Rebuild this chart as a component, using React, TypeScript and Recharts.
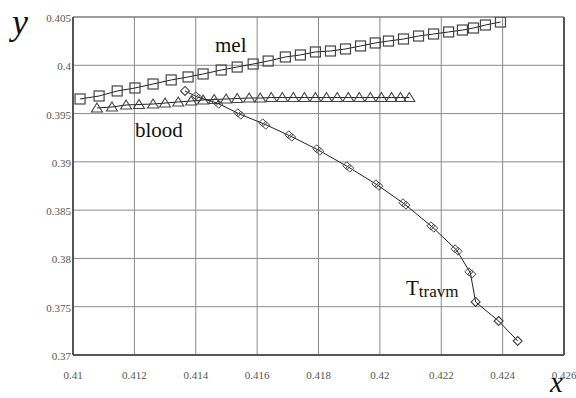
import { ScatterChart, Scatter, XAxis, YAxis, CartesianGrid, ReferenceLine } from "recharts";

const X_TICKS = [0.41, 0.412, 0.414, 0.416, 0.418, 0.42, 0.422, 0.424, 0.426];
const Y_TICKS = [0.37, 0.375, 0.38, 0.385, 0.39, 0.395, 0.4, 0.405];

// mel (squares)
const MEL_X = [
  0.41023, 0.41085, 0.41144, 0.41202, 0.41261, 0.4132, 0.41375, 0.41424, 0.41483, 0.41535,
  0.41587, 0.41636, 0.41692, 0.41741, 0.4179, 0.41839, 0.41888, 0.41937, 0.41985, 0.42028,
  0.42077, 0.42126, 0.42175, 0.42224, 0.42269, 0.42305, 0.42344, 0.42393,
];
const MEL_Y = [
  0.39651, 0.39682, 0.39734, 0.39765, 0.39806, 0.39848, 0.39879, 0.3991, 0.39951, 0.39982,
  0.40013, 0.40044, 0.40086, 0.40107, 0.40138, 0.40148, 0.40169, 0.402, 0.40231, 0.40251,
  0.40272, 0.40303, 0.40324, 0.40345, 0.40365, 0.40386, 0.40417, 0.40448,
];

// blood (triangles)
const BLOOD_X = [
  0.41078, 0.41127, 0.41173, 0.41215, 0.41261, 0.413, 0.41343, 0.41385, 0.41424, 0.4146,
  0.41499, 0.41535, 0.41574, 0.4161, 0.41646, 0.41682, 0.41718, 0.41754, 0.4179, 0.41826,
  0.41861, 0.41897, 0.41933, 0.41969, 0.42005, 0.42038, 0.42067, 0.42096,
];
const BLOOD_Y = [
  0.39558, 0.39568, 0.39589, 0.39594, 0.39599, 0.39609, 0.3962, 0.3963, 0.39641, 0.39646,
  0.39651, 0.39656, 0.39661, 0.39661, 0.39666, 0.39666, 0.39666, 0.39666, 0.39666, 0.39666,
  0.39666, 0.39666, 0.39666, 0.39666, 0.39666, 0.39666, 0.39666, 0.39666,
];

// Ttravm (diamonds)
const TRAVM_X = [
  0.41365, 0.41405, 0.4147, 0.41542, 0.41623, 0.41708, 0.41799, 0.41897, 0.41992, 0.4208,
  0.42171, 0.4225, 0.42295, 0.42312, 0.42387, 0.42449,
];
const TRAVM_Y = [
  0.39734, 0.39672, 0.39609, 0.39496, 0.39392, 0.39268, 0.39123, 0.38947, 0.3876, 0.38564,
  0.38325, 0.38087, 0.37849, 0.37549, 0.37352, 0.37145,
];

const toPoints = (xs: number[], ys: number[]) => xs.map((x, i) => ({ x, y: ys[i] }));
const mel = toPoints(MEL_X, MEL_Y);
const blood = toPoints(BLOOD_X, BLOOD_Y);
const travm = toPoints(TRAVM_X, TRAVM_Y);

const SERIF = "'Liberation Serif', 'DejaVu Serif', serif";
const MARK = "#444";
const fmt = (v: number) => String(Number(v.toFixed(3)));

const Square = (p: any) => (
  <rect x={p.cx - 5} y={p.cy - 5} width={10} height={10} fill="none" stroke={MARK} strokeWidth={1.2} />
);

const Triangle = (p: any) => (
  <polygon
    points={`${p.cx},${p.cy - 5} ${p.cx - 5.5},${p.cy + 4} ${p.cx + 5.5},${p.cy + 4}`}
    fill="none"
    stroke={MARK}
    strokeWidth={1.1}
  />
);

const diamond = (cx: number, cy: number, r: number) =>
  `${cx},${cy - r} ${cx + r},${cy} ${cx},${cy + r} ${cx - r},${cy}`;

const Diamond = (p: any) => {
  const single = p.index === 0 || p.index >= 13;
  if (single) {
    return <polygon points={diamond(p.cx, p.cy, 4.5)} fill="none" stroke={MARK} strokeWidth={1.1} />;
  }
  return (
    <g fill="none" stroke={MARK} strokeWidth={1}>
      <polygon points={diamond(p.cx - 1.5, p.cy - 1.2, 4)} />
      <polygon points={diamond(p.cx + 1.5, p.cy + 1.2, 4)} />
    </g>
  );
};

const XTick = (p: any) => (
  <text x={p.x} y={p.y + 16} textAnchor="middle" fontFamily={SERIF} fontSize={11} fill="#555">
    {fmt(p.payload.value)}
  </text>
);

const YTick = (p: any) => (
  <text x={71} y={p.y + 5} textAnchor="end" fontFamily={SERIF} fontSize={11} fill="#555">
    {fmt(p.payload.value)}
  </text>
);

export default function App() {
  return (
    <div style={{ position: "absolute", left: 0, top: 0, width: 576, height: 398, background: "#fff" }}>
      <ScatterChart width={576} height={398} margin={{ top: 17, right: 12, bottom: 0, left: 0 }}>
        <CartesianGrid stroke="#8a8a8a" strokeWidth={1} horizontalValues={Y_TICKS} verticalValues={X_TICKS} />
        <XAxis
          type="number"
          dataKey="x"
          domain={[0.41, 0.426]}
          ticks={X_TICKS}
          interval={0}
          height={43}
          tickLine={false}
          axisLine={{ stroke: "#555", strokeWidth: 2 }}
          tick={<XTick />}
          allowDataOverflow
        />
        <YAxis
          type="number"
          dataKey="y"
          domain={[0.37, 0.405]}
          ticks={Y_TICKS}
          interval={0}
          width={73}
          tickLine={false}
          axisLine={{ stroke: "#555", strokeWidth: 2 }}
          tick={<YTick />}
          allowDataOverflow
        />
        <ReferenceLine x={0.426} stroke="#555" strokeWidth={2} />
        <ReferenceLine y={0.405} stroke="#777" strokeWidth={1.2} />
        <Scatter
          data={mel}
          line={{ stroke: "#222", strokeWidth: 1 }}
          lineJointType="linear"
          shape={Square}
          isAnimationActive={false}
        />
        <Scatter
          data={blood}
          line={{ stroke: "#222", strokeWidth: 1 }}
          lineJointType="linear"
          shape={Triangle}
          isAnimationActive={false}
        />
        <Scatter
          data={travm}
          line={{ stroke: "#222", strokeWidth: 1 }}
          lineJointType="linear"
          shape={Diamond}
          isAnimationActive={false}
        />
      </ScatterChart>
      <svg
        width={576}
        height={398}
        style={{ position: "absolute", left: 0, top: 0, pointerEvents: "none" }}
      >
        <text x={12} y={34} fontFamily={SERIF} fontStyle="italic" fontSize={36} fill="#111">
          y
        </text>
        <text x={550} y={392} fontFamily={SERIF} fontStyle="italic" fontSize={29} fill="#111">
          x
        </text>
        <text x={215} y={52} fontFamily={SERIF} fontSize={21} fill="#111">
          mel
        </text>
        <text x={135} y={137} fontFamily={SERIF} fontSize={21} fill="#111">
          blood
        </text>
        <text x={406} y={295} fontFamily={SERIF} fontSize={21} fill="#111">
          T
          <tspan fontSize={17} dy={2}>
            travm
          </tspan>
        </text>
      </svg>
    </div>
  );
}
